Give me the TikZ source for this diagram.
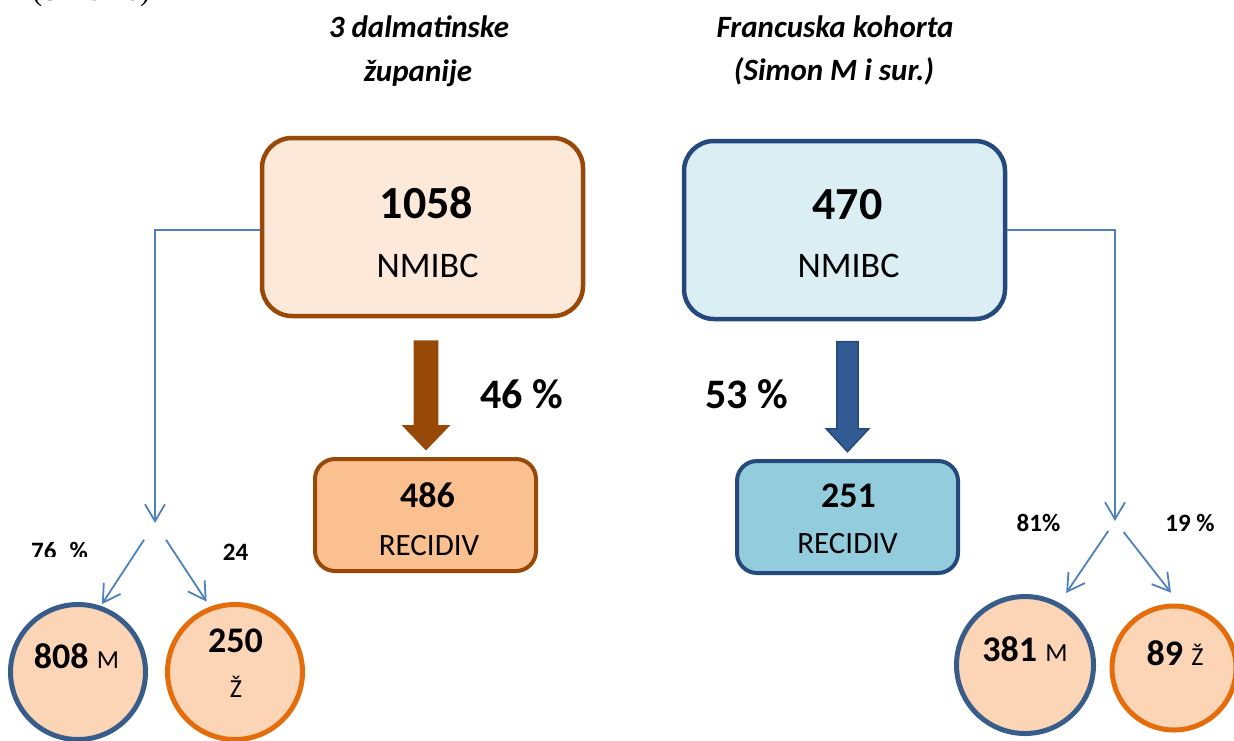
\documentclass[tikz,border=0pt]{standalone}
\usepackage{fontspec}
\setmainfont{Carlito}
\newfontfamily\serifnote{Liberation Serif}
\usepackage{xcolor}
\usepackage{tikz}
\usetikzlibrary{calc}
\usetikzlibrary{arrows.meta}
\usetikzlibrary{shapes}
\usetikzlibrary{shapes.arrows}

\definecolor{peachlight}{RGB}{253,233,218}
\definecolor{peachmid}{RGB}{250,192,144}
\definecolor{brownline}{RGB}{152,72,7}
\definecolor{bluelight}{RGB}{219,238,244}
\definecolor{bluemid}{RGB}{147,205,221}
\definecolor{navy}{RGB}{37,73,125}
\definecolor{arrowblue}{RGB}{49,91,146}
\definecolor{linkblue}{RGB}{79,129,189}
\definecolor{circfill}{RGB}{251,213,181}
\definecolor{circblue}{RGB}{56,93,138}
\definecolor{circorange}{RGB}{228,108,10}

\begin{document}
\begin{tikzpicture}[x=0.5pt, y=-0.5pt,
  bigbox/.style={rectangle, rounded corners=15pt, line width=2.25pt, minimum width=160.5pt, minimum height=89pt},
  recbox/.style={rectangle, rounded corners=10pt, line width=2pt, minimum width=110.5pt, minimum height=56pt},
  disc/.style={circle, fill=circfill, line width=2.5pt, minimum size=67.5pt, inner sep=0pt},
  bigarrow/.style={single arrow, rotate=-90, inner xsep=0pt, minimum height=55pt},
  link/.style={draw=linkblue, line width=0.9pt, -{Straight Barb[length=8.5pt, width=10pt]}},
  txt/.style={anchor=base, inner sep=0pt},
  title/.style={txt, font=\fontsize{15.5}{18}\selectfont\bfseries\itshape},
  total/.style={txt, font=\fontsize{23}{27}\selectfont\bfseries},
  pct/.style={txt, font=\fontsize{21}{25}\selectfont\bfseries},
  small/.style={txt, font=\fontsize{12.5}{15}\selectfont\bfseries},
  big/.style={txt, font=\fontsize{18}{22}\selectfont},
  mid/.style={txt, font=\fontsize{15.5}{18}\selectfont},
  sex/.style={txt, font=\fontsize{13}{16}\selectfont}]
\useasboundingbox (0,0) rectangle (1234,740);

\node [txt, anchor=base west, font=\serifnote\fontsize{14.8}{17}\selectfont] (S) at (32,0) {(Slika 10)};

% titles
\node [title] (D1) at (419,37) {3 dalmatinske};
\node [title] (D2) at (418,81) {županije};
\node [title] (F1) at (835,37) {Francuska kohorta};
\node [title] (F2) at (834,80) {(Simon M i sur.)};

% totals
\node [bigbox, draw=brownline, fill=peachlight] (DT) at (422.5,227) {};
\node [total] (DTn) at (426.5,218) {1058};
\node [big] (DTl) at (427.5,277) {NMIBC};
\node [bigbox, draw=navy, fill=bluelight] (FT) at (844.5,230) {};
\node [total] (FTn) at (847.5,219) {470};
\node [big] (FTl) at (848.5,277) {NMIBC};

% recidiv
\node [bigarrow, fill=brownline, inner ysep=6pt, single arrow head extend=6pt, single arrow tip angle=88] (DA) at (426,389) {};
\node [pct] (DP) at (521.5,408) {46 \%};
\node [recbox, draw=brownline, fill=peachmid] (DR) at (425.5,515) {};
\node [big, font=\fontsize{18}{22}\selectfont\bfseries] (DRn) at (427.5,507) {486};
\node [mid] (DRl) at (429,555) {RECIDIV};

\node [bigarrow, fill=arrowblue, draw=navy, line width=0.75pt, inner ysep=4.9pt, single arrow head extend=5.4pt, single arrow tip angle=86] (FA) at (847.5,391) {};
\node [pct] (FP) at (746.5,408) {53 \%};
\node [recbox, draw=navy, fill=bluemid] (FR) at (847.5,517) {};
\node [big, font=\fontsize{18}{22}\selectfont\bfseries] (FRn) at (848.5,507) {251};
\node [mid] (FRl) at (847.5,553) {RECIDIV};

% split by sex
\coordinate (DK) at (155,523);
\coordinate (FK) at (1115,521);
\draw [link] ([yshift=-1.5pt]DT.west) -| (DK);
\draw [link] (FT.east) -| (FK);

\node [disc, draw=circblue] (DM) at (78,672) {};
\node [disc, draw=circorange] (DZ) at (235,672) {};
\node [disc, draw=circblue, minimum size=68.5pt] (FM) at (1025,665) {};
\node [disc, draw=circorange, minimum size=62pt] (FZ) at (1174,668) {};

\draw [link, shorten <=10pt, shorten >=1pt] (DK) -- (DM.71);
\draw [link, shorten <=10pt, shorten >=3pt] (DK) -- (DZ.111);
\draw [link, shorten <=6pt, shorten >=6pt] (FK) -- (FM.61);
\draw [link, shorten <=7pt, shorten >=7pt] (FK) -- (FZ.85);

\begin{scope}
\clip (0,530) rectangle (130,556);
\node [small] (DMp) at (59.5,559) {76\hspace{6.5pt}\%};
\end{scope}
\node [small] (DZp) at (235.5,560) {24};
\node [small] (FMp) at (1038.5,531) {81\%};
\node [small] (FZp) at (1190,531) {19 \%};

\node [big, font=\fontsize{18}{22}\selectfont\bfseries] (DMn) at (76.5,668) {808 {\mdseries\fontsize{13}{16}\selectfont M}};
\node [big, font=\fontsize{18}{22}\selectfont\bfseries] (DZn) at (235.5,652) {250};
\node [sex] (DZl) at (236,697) {Ž};
\node [big, font=\fontsize{18}{22}\selectfont\bfseries] (FMn) at (1025,661) {381 {\mdseries\fontsize{13}{16}\selectfont M}};
\node [big, font=\fontsize{18}{22}\selectfont\bfseries] (FZn) at (1175,665) {89 {\mdseries\fontsize{13}{16}\selectfont Ž}};
\end{tikzpicture}
\end{document}
